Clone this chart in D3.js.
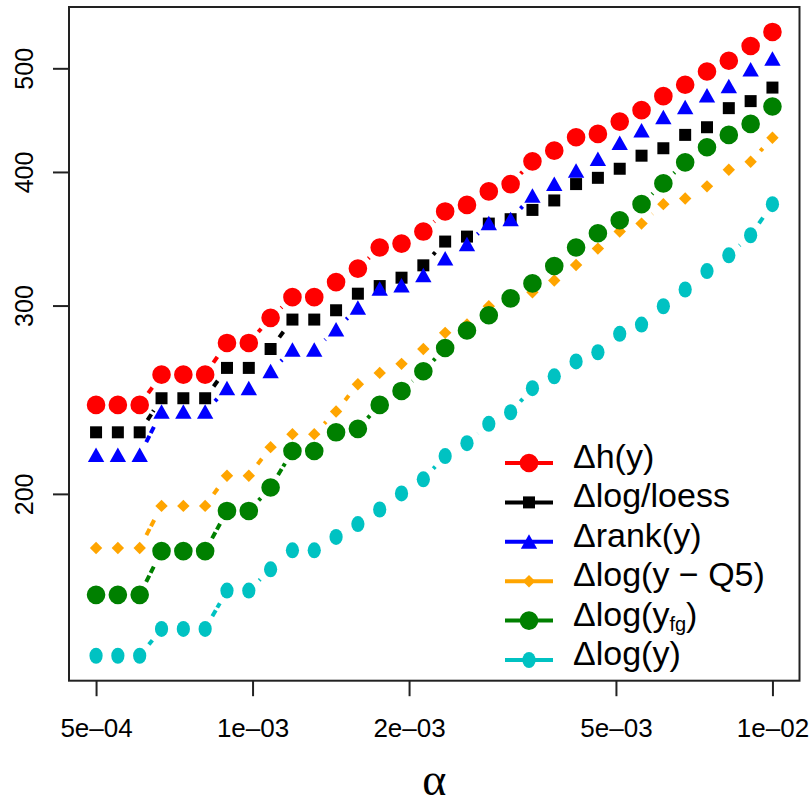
<!DOCTYPE html>
<html>
<head>
<meta charset="utf-8">
<script src="https://cdn.jsdelivr.net/npm/d3@7"></script>
<style>
  body { margin: 0; background: #fff; }
  svg { display: block; }
  text { font-family: "Liberation Sans", Arial, Helvetica, sans-serif; fill: #000; }
</style>
</head>
<body>
<svg width="810" height="804"></svg>
<script>
// alpha grid (log spaced, 32 values)
var alpha = [5.000e-4, 5.507e-4, 6.066e-4, 6.682e-4, 7.360e-4, 8.106e-4, 8.929e-4, 9.835e-4,
             1.0832e-3, 1.1932e-3, 1.3142e-3, 1.4476e-3, 1.5944e-3, 1.7562e-3, 1.9344e-3, 2.1306e-3,
             2.3468e-3, 2.5849e-3, 2.8472e-3, 3.1361e-3, 3.4543e-3, 3.8047e-3, 4.1908e-3, 4.6160e-3,
             5.0843e-3, 5.6002e-3, 6.1684e-3, 6.7942e-3, 7.4836e-3, 8.2429e-3, 9.0792e-3, 1.0000e-2];

var dH = [242.5,242.5,242.5,258.8,258.8,258.8,277.1,277.1,292.5,305.8,305.8,315.9,325.2,340.3,343.2,352.2,
          367.8,373.0,384.0,390.1,409.7,419.2,431.5,434.6,446.3,457.4,471.4,483.1,497.1,508.8,525.2,541.3];
var dLogLoess = [228.6,228.6,228.6,246.0,246.0,246.0,262.6,262.6,273.5,291.4,291.4,297.3,308.1,313.2,318.9,327.5,
                 344.7,348.4,358.3,361.7,369.0,376.6,390.1,395.4,403.2,414.7,421.4,433.7,440.9,459.4,466.4,480.2];
var dRank = [217.7,217.7,217.7,238.9,238.9,238.9,251.4,251.4,260.7,273.1,273.1,285.2,298.9,311.4,313.6,320.5,
             332.3,342.7,358.6,361.7,380.4,390.1,401.4,411.8,426.2,437.7,450.6,460.4,472.0,481.7,499.3,511.0];
var dLogQ5 = [178.2,178.2,178.2,195.1,195.1,195.1,208.2,208.2,221.4,227.7,227.7,239.1,253.5,259.8,264.9,273.5,
              283.2,288.3,299.9,306.5,309.1,317.0,327.7,339.5,352.2,358.3,373.6,378.2,388.2,402.3,409.3,431.1];
var dLogFg = [161.1,161.1,161.1,177.0,177.0,177.0,193.0,193.0,203.0,219.6,219.6,228.6,230.3,242.5,249.9,260.7,
              274.1,284.6,294.1,305.0,315.0,327.0,340.3,350.9,360.9,373.6,390.7,408.8,422.3,433.7,444.1,461.0];
var dLog = [141.3,141.3,141.3,149.7,149.7,149.7,162.6,162.6,170.2,177.3,177.3,182.5,187.6,193.6,200.4,206.6,
            217.2,223.3,232.8,238.7,251.4,257.9,266.3,271.6,282.6,288.3,299.9,310.9,323.5,334.6,349.4,373.6];

var xTicks = [5e-4, 1e-3, 2e-3, 5e-3, 1e-2];
var xTickLabels = ["5e\u201304", "1e\u201303", "2e\u201303", "5e\u201303", "1e\u201302"];
var yTicks = [200, 300, 400, 500];

var series = [
    {name: "h", values: dH, color: "#ff0000", shape: "circle"},
    {name: "loess", values: dLogLoess, color: "#000000", shape: "square"},
    {name: "rank", values: dRank, color: "#0000ff", shape: "triangle"},
    {name: "q5", values: dLogQ5, color: "#ffa500", shape: "diamond"},
    {name: "fg", values: dLogFg, color: "#008000", shape: "circle"},
    {name: "log", values: dLog, color: "#00c2c2", shape: "oval"}
];

var svg = d3.select("svg"),
    margin = {top: 7, right: 10.5, bottom: 123.3, left: 69},
    width = +svg.attr("width"),
    height = +svg.attr("height");

// R style 4% range extension on log axes
function extendLog(lo, hi) {
    var a = Math.log10(lo), b = Math.log10(hi), pad = (b - a) * 0.04;
    return [Math.pow(10, a - pad), Math.pow(10, b + pad)];
}

var allValues = d3.merge(series.map(function (s) { return s.values; }));

var x = d3.scaleLog()
    .domain(extendLog(d3.min(alpha), d3.max(alpha)))
    .range([margin.left, width - margin.right]);

var y = d3.scaleLog()
    .domain(extendLog(d3.min(allValues), d3.max(allValues)))
    .range([height - margin.bottom, margin.top]);

function shapePath(shape) {
    switch (shape) {
        case "circle":
            return "M9.3,0A9.3,9.3 0 1,1 -9.3,0A9.3,9.3 0 1,1 9.3,0Z";
        case "square":
            return "M-6,-6H6V6H-6Z";
        case "triangle":
            return "M0,-7.5L8.2,7H-8.2Z";
        case "diamond":
            return "M0,-6.2L6.2,0L0,6.2L-6.2,0Z";
        case "oval":
            return "M6.6,0A6.6,8 0 1,1 -6.6,0A6.6,8 0 1,1 6.6,0Z";
        default:
            return "M9,0A9,9 0 1,1 -9,0A9,9 0 1,1 9,0Z";
    }
}

// segments with a gap around every point (type = "b")
var gap = 14.5;
function segments(s) {
    var out = [];
    for (var i = 0; i < s.values.length - 1; i++) {
        var x1 = x(alpha[i]), y1 = y(s.values[i]),
            x2 = x(alpha[i + 1]), y2 = y(s.values[i + 1]);
        var dx = x2 - x1, dy = y2 - y1, d = Math.sqrt(dx * dx + dy * dy);
        if (d <= 2 * gap) continue;
        var ux = dx / d, uy = dy / d;
        out.push({x1: x1 + ux * gap, y1: y1 + uy * gap, x2: x2 - ux * gap, y2: y2 - uy * gap});
    }
    return out;
}

var groups = svg.selectAll(".series")
    .data(series)
    .enter().append("g")
    .attr("class", "series");

groups.each(function (s) {
    var g = d3.select(this);
    g.selectAll("line")
        .data(segments(s))
        .enter().append("line")
        .attr("x1", function (d) { return d.x1; })
        .attr("y1", function (d) { return d.y1; })
        .attr("x2", function (d) { return d.x2; })
        .attr("y2", function (d) { return d.y2; })
        .attr("stroke", s.color)
        .attr("stroke-width", 4)
        .attr("stroke-dasharray", "7,3");
    g.selectAll("path")
        .data(s.values)
        .enter().append("path")
        .attr("d", shapePath(s.shape))
        .attr("fill", s.color)
        .attr("transform", function (d, i) {
            return "translate(" + x(alpha[i]) + "," + y(d) + ")";
        });
});

// frame
svg.append("rect")
    .attr("x", margin.left)
    .attr("y", margin.top)
    .attr("width", width - margin.left - margin.right)
    .attr("height", height - margin.top - margin.bottom)
    .attr("fill", "none")
    .attr("stroke", "#222")
    .attr("stroke-width", 2);

// x axis
var xAxis = svg.append("g")
    .attr("transform", "translate(0," + (height - margin.bottom) + ")")
    .call(d3.axisBottom(x)
        .tickValues(xTicks)
        .tickFormat(function (d, i) { return xTickLabels[i]; })
        .tickSize(15.5)
        .tickPadding(22));
xAxis.select(".domain").remove();
xAxis.selectAll(".tick line").attr("stroke", "#222").attr("stroke-width", 2);
xAxis.selectAll(".tick text")
    .attr("font-size", 26)
    .style("font-family", "'Liberation Sans', Arial, sans-serif")
    .attr("fill", "#000");

// y axis
var yAxis = svg.append("g");
yAxis.selectAll("line")
    .data(yTicks)
    .enter().append("line")
    .attr("x1", margin.left - 16)
    .attr("x2", margin.left)
    .attr("y1", function (d) { return y(d); })
    .attr("y2", function (d) { return y(d); })
    .attr("stroke", "#222")
    .attr("stroke-width", 2);
yAxis.selectAll("text")
    .data(yTicks)
    .enter().append("text")
    .attr("transform", function (d) { return "translate(" + 33 + "," + y(d) + ") rotate(-90)"; })
    .attr("text-anchor", "middle")
    .attr("font-size", 25)
    .text(function (d) { return d; });

// x axis title
svg.append("text")
    .attr("x", (margin.left + width - margin.right) / 2)
    .attr("y", 795)
    .attr("text-anchor", "middle")
    .attr("font-size", 46)
    .style("font-family", "'Liberation Serif', 'Times New Roman', serif")
    .text("\u03b1");

// legend
var legendLabels = [
    [{t: "\u0394h(y)"}],
    [{t: "\u0394log/loess"}],
    [{t: "\u0394rank(y)"}],
    [{t: "\u0394log(y \u2212 Q5)"}],
    [{t: "\u0394log(y"}, {t: "fg", sub: true}, {t: ")", up: true}],
    [{t: "\u0394log(y)"}]
];

var legend = svg.append("g").attr("class", "legend");
var lg = legend.selectAll("g")
    .data(series)
    .enter().append("g")
    .attr("transform", function (d, i) { return "translate(0," + (463 + i * 39.4) + ")"; });

lg.append("line")
    .attr("x1", 505).attr("x2", 553)
    .attr("stroke", function (d) { return d.color; })
    .attr("stroke-width", 4);
lg.append("path")
    .attr("d", function (d) { return shapePath(d.shape); })
    .attr("fill", function (d) { return d.color; })
    .attr("transform", "translate(529,0)");

lg.append("text")
    .attr("x", 573)
    .attr("y", 5)
    .attr("font-size", 34)
    .each(function (d, i) {
        var t = d3.select(this);
        legendLabels[i].forEach(function (p) {
            var span = t.append("tspan").text(p.t);
            if (p.sub) span.attr("font-size", 20).attr("dy", 5);
            if (p.up) span.attr("dy", -5);
        });
    });
</script>
</body>
</html>
